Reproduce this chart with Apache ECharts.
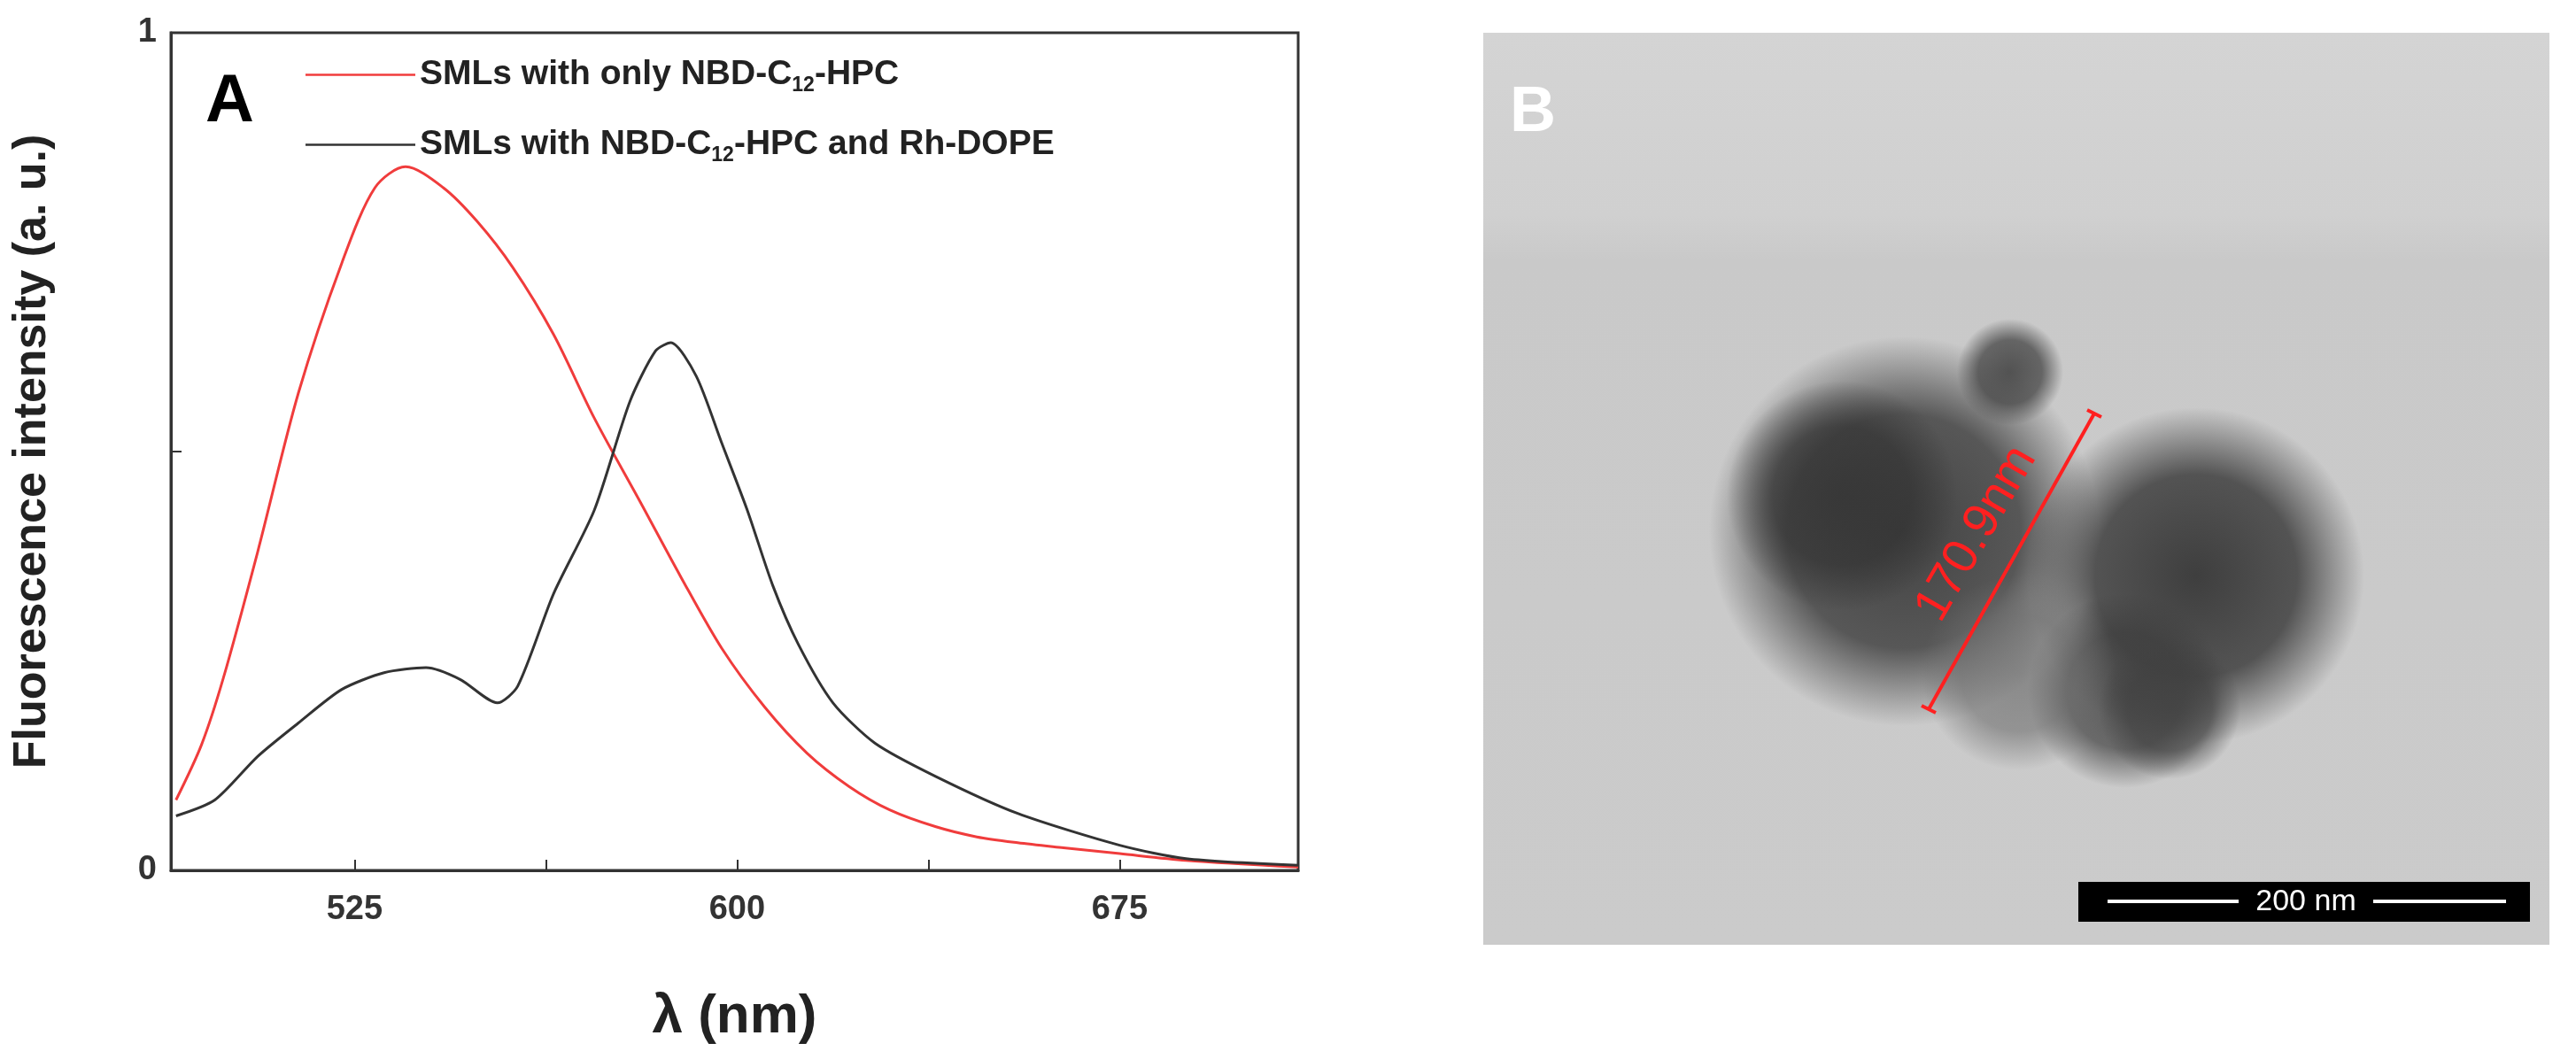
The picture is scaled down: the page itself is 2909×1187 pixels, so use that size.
<!DOCTYPE html>
<html><head><meta charset="utf-8">
<script src="https://cdn.jsdelivr.net/npm/echarts@6/dist/echarts.min.js"></script>
<style>html,body{margin:0;padding:0;background:#fff}#c{width:2909px;height:1187px}</style>
</head><body><div id="c"></div>
<script>
const redX = [490,495,499.3,506,514,522.5,529,535,542.4,549,556,564,572,581,589,597,605.4,613.7,622,630,639,647,655,664,675,688,710];
const redY = [0.084,0.15,0.23,0.38,0.57,0.725,0.815,0.84,0.815,0.775,0.72,0.64,0.54,0.44,0.35,0.265,0.195,0.14,0.10,0.072,0.052,0.04,0.033,0.027,0.02,0.012,0.004];
const blackX = [490,497.6,506,514,522.5,530.8,539,545.7,553,557,564,572,579,584,587,592,597,602,607,612,618.8,627,639,655,675,688,710];
const blackY = [0.065,0.084,0.136,0.176,0.216,0.236,0.242,0.228,0.20,0.22,0.33,0.43,0.56,0.62,0.63,0.59,0.51,0.43,0.34,0.27,0.20,0.152,0.112,0.068,0.030,0.014,0.006];
const xTicks = [525,562.5,600,637.5,675];
const xLabels = [525,600,675];
const yTicks = [0,0.5,1];
const yLabels = [0,1];
const seriesNames = ['SMLs with only NBD-C12-HPC','SMLs with NBD-C12-HPC and Rh-DOPE'];

const chart = echarts.init(document.getElementById('c'));
const zip = (a,b)=>a.map((v,i)=>[v,b[i]]);
const ff = 'Arial, "Liberation Sans", sans-serif';
const blob = (cx,cy,rx,ry,c,a)=>({type:'ellipse',shape:{cx,cy,rx,ry},silent:true,
  style:{fill:{type:'radial',x:0.5,y:0.5,r:0.5,colorStops:[{offset:0,color:'rgba('+c+','+a+')'},{offset:0.6,color:'rgba('+c+','+(a*0.85)+')'},{offset:1,color:'rgba('+c+',0)'}]}}});
chart.setOption({
  animation:false,
  grid:{left:193,top:37,width:1273,height:946,show:false},
  xAxis:{type:'value',min:489,max:710,
    name:'λ (nm)',nameLocation:'middle',nameGap:135,
    nameTextStyle:{fontFamily:ff,fontSize:62,fontWeight:'bold',color:'#222'},
    axisLine:{show:true,onZero:false,lineStyle:{color:'#333',width:3}},
    axisTick:{show:true,inside:true,length:12,customValues:xTicks,lineStyle:{color:'#333',width:2}},
    axisLabel:{fontFamily:ff,fontSize:38,fontWeight:'bold',color:'#333',margin:26,customValues:xLabels},
    splitLine:{show:false}},
  yAxis:{type:'value',min:0,max:1,
    name:'Fluorescence intensity (a. u.)',nameLocation:'middle',nameGap:130,
    nameTextStyle:{fontFamily:ff,fontSize:52,fontWeight:'bold',color:'#222'},
    axisLine:{show:true,lineStyle:{color:'#333',width:3}},
    axisTick:{show:true,inside:true,length:12,customValues:yTicks,lineStyle:{color:'#333',width:2}},
    axisLabel:{fontFamily:ff,fontSize:38,fontWeight:'bold',color:'#333',margin:16,customValues:yLabels},
    splitLine:{show:false}},
  legend:{left:340,top:60,orient:'vertical',itemGap:36,itemWidth:124,itemHeight:20,
    icon:'path://M0,9 L100,9 L100,11 L0,11 Z',
    data:seriesNames,
    formatter:n=>{const p=n.split('C12');return '{n|'+p[0]+'C}{s|12}{n|'+p[1]+'}';},
    textStyle:{rich:{n:{fontFamily:ff,fontSize:39,fontWeight:'bold',color:'#222'},
      s:{fontFamily:ff,fontSize:23,fontWeight:'bold',color:'#222',padding:[24,0,0,0]}}}},
  series:[
    {name:seriesNames[0],type:'line',smooth:0.3,showSymbol:false,data:zip(redX,redY),lineStyle:{color:'#f03c3c',width:3},itemStyle:{color:'#f03c3c'}},
    {name:seriesNames[1],type:'line',smooth:0.25,showSymbol:false,data:zip(blackX,blackY),lineStyle:{color:'#333',width:3},itemStyle:{color:'#333'}}
  ],
  graphic:[
    {type:'rect',shape:{x:193,y:37,width:1273,height:946},style:{fill:'none',stroke:'#333',lineWidth:3},silent:true},
    {type:'text',left:232,top:78,style:{text:'A',fontFamily:ff,fontSize:76,fontWeight:'bold',fill:'#000'}},
    {type:'rect',shape:{x:1675,y:37,width:1204,height:1030},style:{fill:{type:'linear',x:0,y:0,x2:0,y2:1,colorStops:[{offset:0,color:'#d4d4d4'},{offset:0.2,color:'#d0d0d0'},{offset:0.25,color:'#c9c9c9'},{offset:1,color:'#cbcbcb'}]}}},
    blob(2150,600,250,220,'60,60,60',0.95),
    blob(2080,560,150,130,'50,50,50',0.8),
    blob(2270,420,70,60,'70,70,70',0.9),
    blob(2480,650,200,190,'55,55,55',0.95),
    blob(2400,780,130,110,'60,60,60',0.8),
    blob(2280,760,110,110,'110,110,110',0.7),
    blob(2450,800,90,80,'65,65,65',0.8),
    {type:'line',shape:{x1:2178,y1:801,x2:2365,y2:467},style:{stroke:'#ff2020',lineWidth:4}},
    {type:'line',shape:{x1:2170,y1:797,x2:2186,y2:805},style:{stroke:'#ff2020',lineWidth:4}},
    {type:'line',shape:{x1:2357,y1:463,x2:2373,y2:471},style:{stroke:'#ff2020',lineWidth:4}},
    {type:'text',x:2232,y:603,rotation:Math.PI/3,style:{text:'170.9nm',fontFamily:ff,fontSize:56,fill:'#ff2020',align:'center',verticalAlign:'middle'}},
    {type:'rect',shape:{x:2347,y:996,width:510,height:45},style:{fill:'#000'}},
    {type:'line',shape:{x1:2380,y1:1018,x2:2528,y2:1018},style:{stroke:'#fff',lineWidth:4}},
    {type:'line',shape:{x1:2680,y1:1018,x2:2830,y2:1018},style:{stroke:'#fff',lineWidth:4}},
    {type:'text',x:2604,y:1019,style:{text:'200 nm',fontFamily:ff,fontSize:34,fill:'#fff',align:'center',verticalAlign:'middle'}},
    {type:'text',left:1705,top:92,style:{text:'B',fontFamily:ff,fontSize:72,fontWeight:'bold',fill:'#fff'}}
  ]
});
</script></body></html>
